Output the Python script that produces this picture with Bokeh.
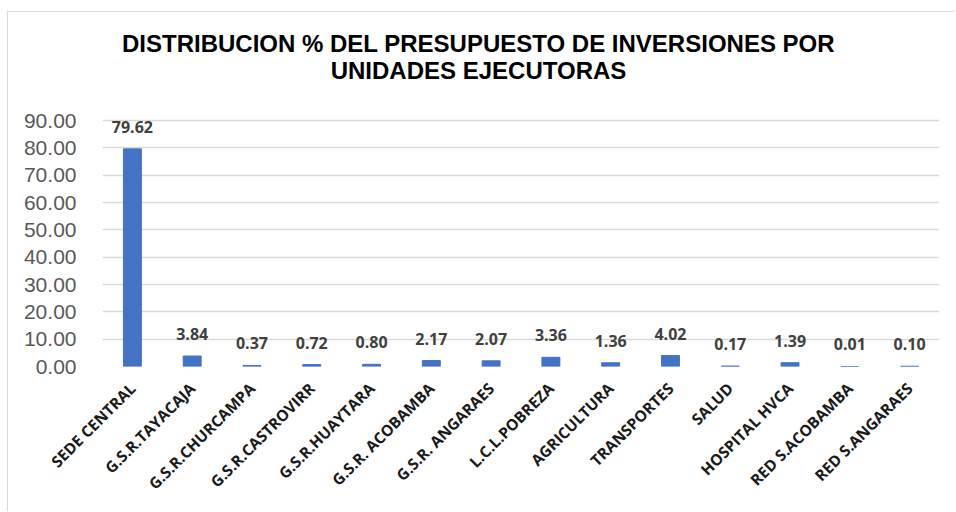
from bokeh.plotting import figure
from bokeh.models import ColumnDataSource, LabelSet, Label, Range1d, FactorRange, FixedTicker, NumeralTickFormatter
from bokeh.core.properties import value
from bokeh.embed import file_html
from bokeh.resources import INLINE
import math

categories = ["SEDE CENTRAL", "G.S.R.TAYACAJA", "G.S.R.CHURCAMPA", "G.S.R.CASTROVIRR",
              "G.S.R.HUAYTARA", "G.S.R. ACOBAMBA", "G.S.R. ANGARAES", "L.C.L.POBREZA",
              "AGRICULTURA", "TRANSPORTES", "SALUD", "HOSPITAL HVCA",
              "RED S.ACOBAMBA", "RED S.ANGARAES"]
values = [79.62, 3.84, 0.37, 0.72, 0.80, 2.17, 2.07, 3.36, 1.36, 4.02, 0.17, 1.39, 0.01, 0.10]
y_ticks = [0, 10, 20, 30, 40, 50, 60, 70, 80, 90]
title_lines = ["DISTRIBUCION % DEL PRESUPUESTO DE INVERSIONES POR", "UNIDADES EJECUTORAS"]

src = ColumnDataSource(dict(cat=categories, val=values,
                            lab=["%.2f" % v for v in values]))

W, H = 948, 500
BOTTOM = 146
FRAME_H = H - BOTTOM          # frame reaches the top of the canvas, title drawn inside it
AXIS_MAX = 90                 # top gridline sits 108px below the canvas top
y_end = AXIS_MAX * FRAME_H / (FRAME_H - 108)

p = figure(width=W, height=H, output_backend="svg", toolbar_location=None,
           x_range=FactorRange(*categories, range_padding=0),
           y_range=Range1d(0, y_end),
           min_border_left=94, min_border_right=17, min_border_top=0, min_border_bottom=BOTTOM)
p.styles = {"margin-left": "7px", "margin-top": "11px",
            "border-left": "1px solid #d9d9d9", "border-top": "1px solid #d9d9d9"}
p.outline_line_color = None
p.background_fill_color = "white"
p.border_fill_color = "white"

p.vbar(x="cat", top="val", width=0.3, source=src, fill_color="#4472C4", line_color="#4472C4")

p.add_layout(LabelSet(x="cat", y="val", text="lab", source=src, y_offset=16,
                      text_align="center", text_baseline="alphabetic",
                      text_font=value("Open Sans"), text_font_style="bold",
                      text_font_size=value("16px"), text_color="#404040"))

p.yaxis.ticker = FixedTicker(ticks=y_ticks)
p.yaxis.formatter = NumeralTickFormatter(format="0.00")
p.yaxis.axis_line_color = None
p.yaxis.major_tick_line_color = None
p.yaxis.minor_tick_line_color = None
p.yaxis.major_label_text_font = "Liberation Sans"
p.yaxis.major_label_text_font_size = "21px"
p.yaxis.major_label_text_color = "#595959"
p.yaxis.major_label_standoff = 20

p.xaxis.axis_line_color = None
p.xaxis.major_tick_line_color = None
p.xaxis.minor_tick_line_color = None
p.xaxis.major_label_orientation = math.pi / 4
p.xaxis.major_label_text_font = "Open Sans"
p.xaxis.major_label_text_font_style = "bold"
p.xaxis.major_label_text_font_size = "15.5px"
p.xaxis.major_label_text_color = "#1a1a1a"
p.xaxis.major_label_standoff = 13

p.xgrid.grid_line_color = None
p.ygrid.grid_line_color = "#d9d9d9"
p.ygrid.grid_line_width = 1.5

for t, yy in zip(title_lines, [FRAME_H - 31, FRAME_H - 58]):
    p.add_layout(Label(x=376, y=yy, x_units="screen", y_units="screen", text=t,
                       text_align="center", text_baseline="alphabetic",
                       text_font="Liberation Sans", text_font_style="bold",
                       text_font_size="24px", text_color="black"))

open("out.html", "w").write(file_html(p, INLINE))
